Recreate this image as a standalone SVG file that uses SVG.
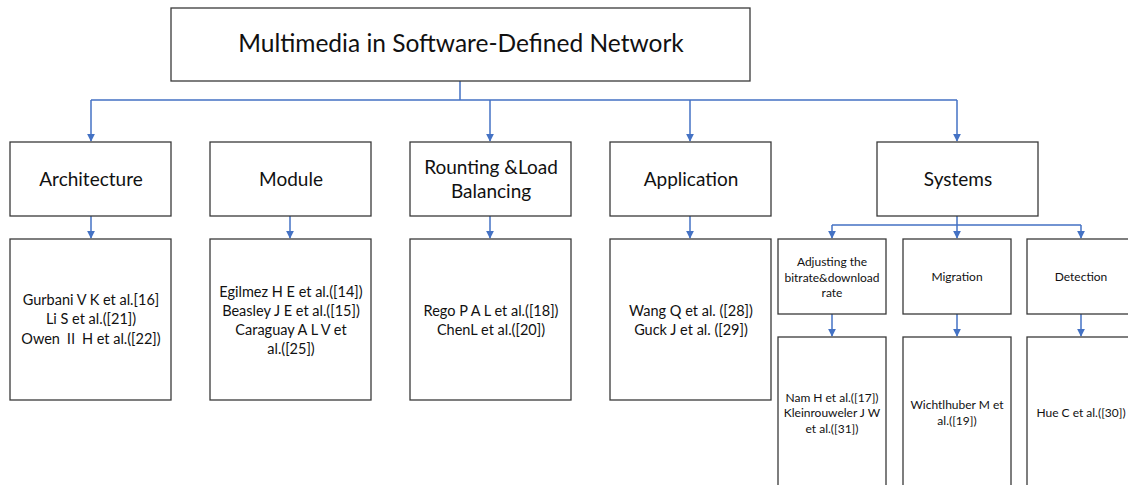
<svg xmlns="http://www.w3.org/2000/svg" width="1128" height="485" viewBox="0 0 1128 485">
  <defs>
    <marker id="arrow" viewBox="0 0 10 10" refX="9" refY="5" markerWidth="8" markerHeight="8" markerUnits="userSpaceOnUse" orient="auto">
      <path d="M0,0 L10,5 L0,10 z" fill="#4472C4"/>
    </marker>
    <style>
      .box { fill: #ffffff; stroke: #3a3a3a; stroke-width: 1.3; }
      .conn { fill: none; stroke: #4472C4; stroke-width: 1.5; }
      text { font-family: Lato, "Noto Sans", "Noto Sans CJK SC", sans-serif; fill: #111111; text-anchor: middle; }
      .title { font-size: 24.5px; }
      .h2 { font-size: 19px; }
      .ref { font-size: 14.5px; }
      .sub { font-size: 12px; }
      .cjk { font-family: "Noto Sans CJK SC", sans-serif; }
    </style>
  </defs>
  <rect width="1128" height="485" fill="#ffffff"/>

  <!-- connectors -->
  <g id="connectors">
    <path class="conn" d="M460,81 V100 M91,100 H957"/>
    <path class="conn" d="M91,100 V141" marker-end="url(#arrow)"/>
    <path class="conn" d="M490,100 V141" marker-end="url(#arrow)"/>
    <path class="conn" d="M690,100 V141" marker-end="url(#arrow)"/>
    <path class="conn" d="M957,100 V141" marker-end="url(#arrow)"/>
    <path class="conn" d="M91,216 V238" marker-end="url(#arrow)"/>
    <path class="conn" d="M290,216 V238" marker-end="url(#arrow)"/>
    <path class="conn" d="M490,216 V238" marker-end="url(#arrow)"/>
    <path class="conn" d="M690,216 V238" marker-end="url(#arrow)"/>
    <path class="conn" d="M957,216 V225 M832,225 H1081"/>
    <path class="conn" d="M832,225 V238" marker-end="url(#arrow)"/>
    <path class="conn" d="M957,225 V238" marker-end="url(#arrow)"/>
    <path class="conn" d="M1081,225 V238" marker-end="url(#arrow)"/>
    <path class="conn" d="M832,314 V336" marker-end="url(#arrow)"/>
    <path class="conn" d="M957,314 V336" marker-end="url(#arrow)"/>
    <path class="conn" d="M1081,314 V336" marker-end="url(#arrow)"/>
  </g>

  <!-- root -->
  <g id="root">
    <rect class="box" x="171" y="8" width="579" height="73"/>
    <text class="title" x="461" y="52">Multimedia in Software-Defined Network</text>
  </g>

  <!-- second level -->
  <g id="architecture">
    <rect class="box" x="10" y="142" width="161" height="74"/>
    <text class="h2" x="91" y="186">Architecture</text>
  </g>
  <g id="module">
    <rect class="box" x="210" y="142" width="161" height="74"/>
    <text class="h2" x="291" y="186">Module</text>
  </g>
  <g id="routing">
    <rect class="box" x="410" y="142" width="161" height="74"/>
    <text class="h2" x="491" y="174">Rounting &amp;Load</text>
    <text class="h2" x="491" y="198">Balancing</text>
  </g>
  <g id="application">
    <rect class="box" x="610" y="142" width="161" height="74"/>
    <text class="h2" x="691" y="186">Application</text>
  </g>
  <g id="systems">
    <rect class="box" x="877" y="142" width="161" height="74"/>
    <text class="h2" x="958" y="186">Systems</text>
  </g>

  <!-- references -->
  <g id="architecture-refs">
    <rect class="box" x="10" y="239" width="161" height="161"/>
    <text class="ref" x="91" y="305">Gurbani V K et al.[16]</text>
    <text class="ref" x="91" y="324">Li S et al.([21])</text>
    <text class="ref" x="91" y="344" xml:space="preserve">Owen <tspan class="cjk">Ⅱ</tspan> H et al.([22])</text>
  </g>
  <g id="module-refs">
    <rect class="box" x="210" y="239" width="161" height="161"/>
    <text class="ref" x="291" y="297">Egilmez H E et al.([14])</text>
    <text class="ref" x="291" y="316">Beasley J E et al.([15])</text>
    <text class="ref" x="291" y="335">Caraguay A L V et</text>
    <text class="ref" x="291" y="354">al.([25])</text>
  </g>
  <g id="routing-refs">
    <rect class="box" x="410" y="239" width="161" height="161"/>
    <text class="ref" x="491" y="316">Rego P A L et al.([18])</text>
    <text class="ref" x="491" y="335">ChenL et al.([20])</text>
  </g>
  <g id="application-refs">
    <rect class="box" x="610" y="239" width="161" height="161"/>
    <text class="ref" x="691" y="316">Wang Q et al. ([28])</text>
    <text class="ref" x="691" y="335">Guck J et al. ([29])</text>
  </g>

  <!-- systems sub-categories -->
  <g id="adjusting">
    <rect class="box" x="778" y="239" width="108" height="75"/>
    <text class="sub" x="832" y="266">Adjusting the</text>
    <text class="sub" x="832" y="282">bitrate&amp;download</text>
    <text class="sub" x="832" y="297">rate</text>
  </g>
  <g id="migration">
    <rect class="box" x="903" y="239" width="108" height="75"/>
    <text class="sub" x="957" y="281">Migration</text>
  </g>
  <g id="detection">
    <rect class="box" x="1027" y="239" width="108" height="75"/>
    <text class="sub" x="1081" y="281">Detection</text>
  </g>

  <g id="adjusting-refs">
    <rect class="box" x="778" y="337" width="108" height="160"/>
    <text class="sub" x="832" y="402">Nam H et al.([17])</text>
    <text class="sub" x="832" y="417">Kleinrouweler J W</text>
    <text class="sub" x="832" y="433">et al.([31])</text>
  </g>
  <g id="migration-refs">
    <rect class="box" x="903" y="337" width="108" height="160"/>
    <text class="sub" x="957" y="409">Wichtlhuber M et</text>
    <text class="sub" x="957" y="425">al.([19])</text>
  </g>
  <g id="detection-refs">
    <rect class="box" x="1027" y="337" width="108" height="160"/>
    <text class="sub" x="1081" y="417">Hue C et al.([30])</text>
  </g>
</svg>
